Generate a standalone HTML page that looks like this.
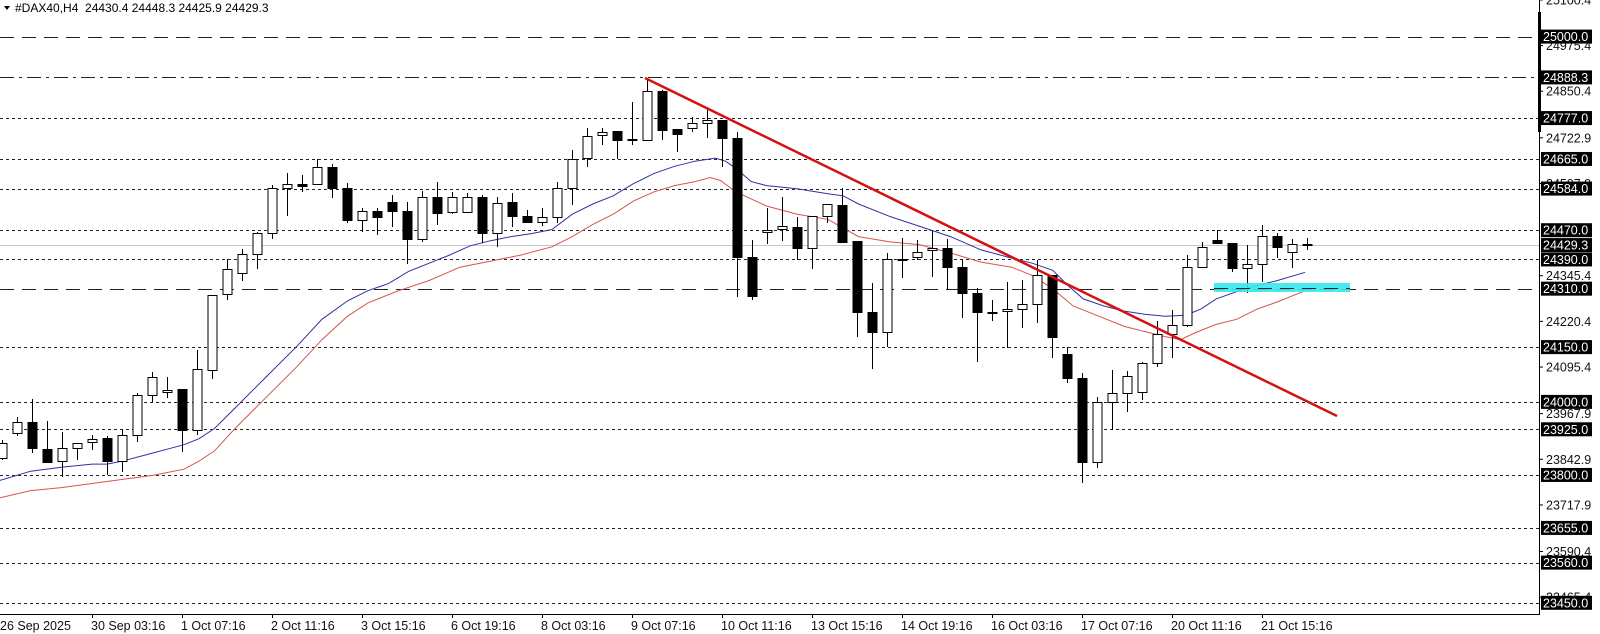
<!DOCTYPE html>
<html><head><meta charset="utf-8"><style>
html,body{margin:0;padding:0;background:#fff;width:1600px;height:634px;overflow:hidden}
svg{display:block}
text{font-family:"Liberation Sans",sans-serif}
</style></head><body>
<svg id="c" width="1600" height="634" xmlns="http://www.w3.org/2000/svg"></svg>
<script>
var s='';
function Y(p){return 36.6+(25000-p)*0.3653;}
var AX=1539, BOT=614;
// horizontal lines
var lines=[[25000,'14 8'],[24888.3,'14 5 3 5'],[24777,'3 3'],[24665,'3 3'],[24584,'3 3'],[24470,'3 3'],[24390,'3 3'],[24310,'14 8'],[24150,'3 3'],[24000,'3 3'],[23925,'3 3'],[23800,'3 3'],[23655,'3 3'],[23560,'3 3'],[23450,'3 3']];
lines.forEach(function(l){var y=Math.round(Y(l[0]))+0.5;s+='<line x1="0" x2="'+AX+'" y1="'+y+'" y2="'+y+'" stroke="#222" stroke-width="1" stroke-dasharray="'+l[1]+'"/>';});
// current price
s+='<line x1="0" x2="'+AX+'" y1="245.5" y2="245.5" stroke="#c8c8c8" stroke-width="1"/>';
// candles: [top,bottom,high,low,bull]
var C=[[443,458,440,460,1],[422,433,417,436,1],[422,448,399,453,0],[449,462,421,463,0],[448,461,432,477,1],[443,448,443,460,1],[439,442,435,450,1],[438,461,436,475,0],[435,461,429,472,1],[395,435,393,442,1],[377,395,372,402,1],[390,392,377,398,1],[389,430,389,452,0],[369,430,350,435,1],[295,370,295,379,1],[269,294,259,300,1],[254,273,249,281,1],[233,254,232,269,1],[188,233,185,239,1],[184,188,173,216,1],[184,186,175,192,0],[167,184,159,185,1],[167,188,164,198,0],[188,220,183,223,0],[211,220,208,232,1],[211,217,208,235,0],[202,211,195,227,0],[211,239,202,264,0],[197,239,191,242,1],[197,213,182,225,0],
[197,212,192,214,1],[197,212,193,213,1],[197,233,195,243,0],[203,233,197,247,1],[202,216,193,227,0],[216,222,210,222,0],[217,222,208,226,1],[188,217,182,223,1],[159,188,150,205,1],[136,158,128,167,1],[132,135,128,145,1],[131,140,131,159,0],[139,140,102,145,0],[91,140,78,140,1],[91,130,90,140,0],[129,134,129,152,0],[123,128,117,132,1],[120,123,108,138,1],[120,138,120,167,0],[138,257,132,297,0],[257,296,240,300,0],[230,232,208,244,1],[226,229,197,241,1],[227,248,217,260,0],[216,248,216,269,1],[204,216,204,223,1],[205,242,188,242,0],[241,312,241,337,0],
[312,332,283,369,0],[259,332,253,347,1],[259,260,238,278,0],[252,257,240,260,1],[248,250,231,277,1],[248,267,239,290,0],[267,293,260,318,0],[293,312,288,362,0],[312,313,300,321,0],[309,311,282,348,1],[304,309,280,328,1],[275,304,260,323,1],[275,337,275,358,0],[354,378,347,383,0],[378,462,373,483,0],[402,462,397,468,1],[393,402,370,430,1],[376,393,371,412,1],[363,392,362,400,1],[334,363,321,367,1],[325,334,310,358,1],[267,325,255,327,1],[247,267,242,268,1],[240,243,230,243,0],[243,268,243,272,0],[264,268,245,293,1],[236,264,225,282,1],[236,247,233,258,0],[244,252,239,268,1],[244,245,238,250,0]];
// MAs (screenshot coords, scaled)
var blue=[[0,471],[30,462],[60,458],[90,455],[105,455],[120,452],[150,444],[165,440],[180,436],[195,430],[210,420],[230,400],[260,370],[290,340],[315,313],[340,295],[360,285],[380,278],[400,266],[420,258],[440,250],[460,241],[480,236],[500,232],[520,229],[540,225],[560,210],[580,200],[600,192],[620,180],[640,170],[660,163],[680,158],[700,155],[710,158],[720,165],[735,178],[750,182],[780,185],[810,190],[825,192],[840,200],[870,212],[900,222],[930,232],[960,245],[990,253],[1010,258],[1030,265],[1045,280],[1060,293],[1080,300],[1100,305],[1120,308],[1140,310],[1160,309],[1175,303],[1190,293],[1210,286],[1230,280],[1250,275],[1277,267]];
var red=[[0,488],[30,481],[60,478],[90,474],[120,470],[150,466],[180,460],[195,452],[210,442],[230,420],[260,390],[290,360],[315,333],[340,310],[360,297],[390,285],[420,275],[450,262],[480,256],[510,250],[540,242],[560,232],[580,220],[600,210],[620,197],[640,188],[660,182],[680,178],[695,174],[705,177],[720,188],[735,195],[750,202],[780,210],[810,215],[840,232],[870,237],[900,240],[930,248],[960,257],[990,262],[1010,270],[1030,283],[1050,300],[1080,312],[1100,320],[1120,325],[1140,330],[1155,333],[1170,326],[1190,318],[1210,313],[1230,303],[1250,296],[1277,285]];
function pl(a,col){return '<polyline fill="none" stroke="'+col+'" stroke-width="1" points="'+a.map(function(p){return (p[0]*1.022).toFixed(1)+','+(p[1]*1.02).toFixed(1)}).join(' ')+'"/>';}
s+=pl(red,'#d9534f');
s+=pl(blue,'#3030a0');
C.forEach(function(c,i){var x=2+15*i;var xs=Math.round(x)+0.5;
 s+='<line x1="'+xs+'" x2="'+xs+'" y1="'+c[2]+'" y2="'+c[3]+'" stroke="#000" stroke-width="1"/>';
 var h=Math.max(c[1]-c[0],1);
 if(c[4]) s+='<rect x="'+(xs-4.5)+'" y="'+(c[0]+0.5)+'" width="9" height="'+h+'" fill="#fff" stroke="#000" stroke-width="1"/>';
 else s+='<rect x="'+(xs-5)+'" y="'+c[0]+'" width="10" height="'+(h+1)+'" fill="#000"/>';
});
// cyan
s+='<rect x="1214" y="283" width="136" height="9" fill="#33e8ec" opacity="0.9"/>';
s+='<line x1="1214" x2="1350" y1="288.5" y2="288.5" stroke="#222" stroke-dasharray="14 8" stroke-width="1"/>';
// trendline
s+='<line x1="645" y1="78" x2="1337" y2="416" stroke="#d41010" stroke-width="2.5"/>';
// axes
s+='<rect x="'+(AX+1)+'" y="0" width="'+(1600-AX)+'" height="634" fill="#fff"/>';
s+='<rect x="0" y="'+(BOT+1)+'" width="'+AX+'" height="20" fill="#fff"/>';
s+='<line x1="'+(AX+0.5)+'" x2="'+(AX+0.5)+'" y1="0" y2="'+BOT+'" stroke="#000"/>';
s+='<line x1="0" x2="'+(AX+1)+'" y1="'+(BOT+0.5)+'" y2="'+(BOT+0.5)+'" stroke="#000"/>';
s+='<rect x="'+(AX-1)+'" y="12" width="3" height="120" fill="#000"/>';
// plain labels
[25100.4,24975.4,24850.4,24722.9,24597.9,24345.4,24220.4,24095.4,23967.9,23842.9,23717.9,23590.4,23465.4].forEach(function(p){var y=Y(p);
 s+='<line x1="'+(AX+1)+'" x2="'+(AX+4)+'" y1="'+y+'" y2="'+y+'" stroke="#000"/>';
 s+='<text x="'+(AX+7)+'" y="'+(y+4.5)+'" font-size="12.5" fill="#111">'+p.toFixed(1)+'</text>';});
// highlighted labels
[25000,24888.3,24777,24665,24584,24470,24429.3,24390,24310,24150,24000,23925,23800,23655,23560,23450].forEach(function(p){var y=Y(p);
 s+='<rect x="'+(AX+2)+'" y="'+(y-7)+'" width="51" height="14" fill="#000"/>';
 s+='<text x="'+(AX+4)+'" y="'+(y+4.5)+'" font-size="12.5" fill="#fff">'+p.toFixed(1)+'</text>';});
// date labels
var D=['26 Sep 2025','30 Sep 03:16','1 Oct 07:16','2 Oct 11:16','3 Oct 15:16','6 Oct 19:16','8 Oct 03:16','9 Oct 07:16','10 Oct 11:16','13 Oct 15:16','14 Oct 19:16','16 Oct 03:16','17 Oct 07:16','20 Oct 11:16','21 Oct 15:16'];
D.forEach(function(d,k){var x=2+90*k;
 if(k>0) s+='<line x1="'+(x+0.5)+'" x2="'+(x+0.5)+'" y1="'+BOT+'" y2="'+(BOT+4)+'" stroke="#000"/>';
 s+='<text x="'+(k==0?0:x-1)+'" y="630" font-size="12.5" fill="#111">'+d+'</text>';});
// header
s+='<path d="M4 6 L10 6 L7 10 Z" fill="#000"/>';
s+='<text x="15" y="12" font-size="12" fill="#000">#DAX40,H4&#160;&#160;24430.4 24448.3 24425.9 24429.3</text>';
document.getElementById('c').innerHTML=s;
</script>
</body></html>
